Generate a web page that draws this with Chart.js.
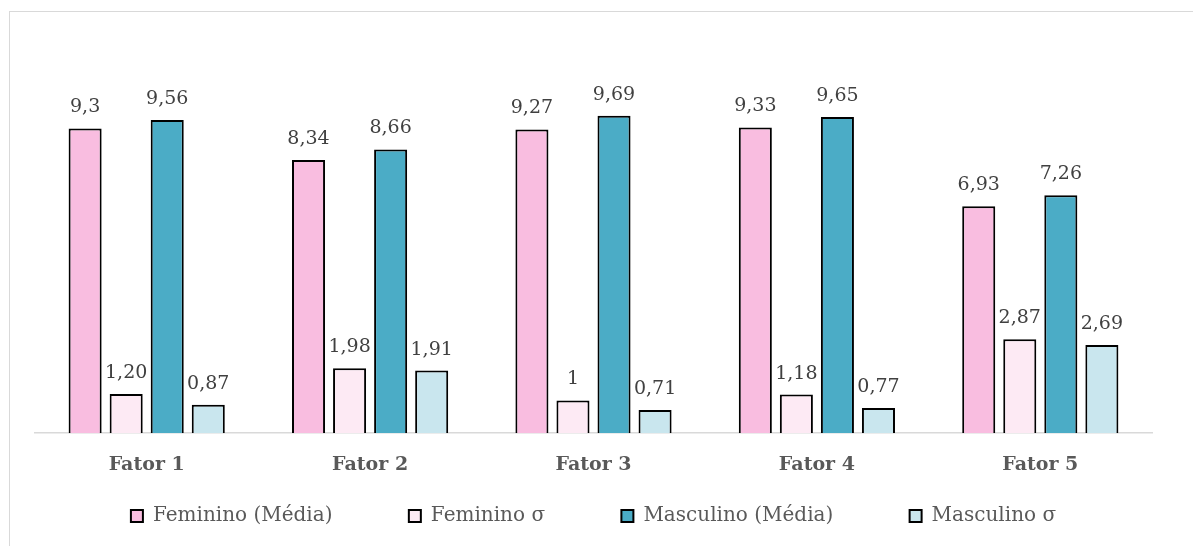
<!DOCTYPE html>
<html>
<head>
<meta charset="utf-8">
<script src="https://cdn.jsdelivr.net/npm/chart.js@4/dist/chart.umd.min.js"></script>
<style>
  html, body { margin: 0; padding: 0; background: #fff; }
  #wrap { width: 1193px; height: 546px; position: relative; }
</style>
</head>
<body>
<div id="wrap"><canvas id="fatores_chart" width="1193" height="546"></canvas></div>
<script>
// dados
const categorias = ['Fator 1', 'Fator 2', 'Fator 3', 'Fator 4', 'Fator 5'];
const femMedia = [9.3, 8.34, 9.27, 9.33, 6.93];
const femSigma = [1.20, 1.98, 1, 1.18, 2.87];
const mascMedia = [9.56, 8.66, 9.69, 9.65, 7.26];
const mascSigma = [0.87, 1.91, 0.71, 0.77, 2.69];
// rótulos como aparecem no gráfico
const femMediaTxt = ['9,3', '8,34', '9,27', '9,33', '6,93'];
const femSigmaTxt = ['1,20', '1,98', '1', '1,18', '2,87'];
const mascMediaTxt = ['9,56', '8,66', '9,69', '9,65', '7,26'];
const mascSigmaTxt = ['0,87', '1,91', '0,71', '0,77', '2,69'];

const FONTE = "'DejaVu Serif', 'Liberation Serif', serif";
const ESPACO = '\u2003\u2003\u2003 '; // espaço extra entre itens da legenda

// fundo + moldura
const moldura = {
  id: 'moldura',
  beforeDraw(chart) {
    const c = chart.ctx;
    c.save();
    c.fillStyle = '#fff';
    c.fillRect(0, 0, chart.width, chart.height);
    c.strokeStyle = '#d9d9d9';
    c.lineWidth = 1;
    c.strokeRect(9.5, 11.5, 1200, 560);
    c.restore();
  }
};

// valores acima das barras
const rotulos = {
  id: 'rotulos',
  afterDatasetsDraw(chart) {
    const c = chart.ctx;
    c.save();
    c.font = '19px ' + FONTE;
    c.fillStyle = '#404040';
    c.textAlign = 'center';
    c.textBaseline = 'alphabetic';
    chart.data.datasets.forEach((ds, i) => {
      chart.getDatasetMeta(i).data.forEach((bar, j) => {
        c.fillText(ds.textos[j], bar.x, bar.y - 16);
      });
    });
    c.restore();
  }
};

function serie(label, data, textos, cor) {
  return {
    label: label,
    data: data,
    textos: textos,
    backgroundColor: cor,
    borderColor: '#000',
    borderWidth: 2,
    categoryPercentage: 0.735,
    barPercentage: 0.805
  };
}

const ctx = document.getElementById('fatores_chart');
new Chart(ctx, {
  type: 'bar',
  data: {
    labels: categorias,
    datasets: [
      serie('Feminino (Média)', femMedia, femMediaTxt, '#f9bde0'),
      serie('Feminino σ', femSigma, femSigmaTxt, '#fdeaf4'),
      serie('Masculino (Média)', mascMedia, mascMediaTxt, '#4bacc6'),
      serie('Masculino σ', mascSigma, mascSigmaTxt, '#c9e6ee')
    ]
  },
  options: {
    responsive: false,
    animation: false,
    layout: { padding: { left: 35, right: 41, top: 40, bottom: 10 } },
    scales: {
      x: {
        grid: { display: false, drawTicks: false },
        border: { display: true, color: '#d9d9d9', width: 1.5 },
        ticks: {
          padding: 20,
          color: '#595959',
          font: { family: FONTE, size: 19, weight: 'bold' }
        }
      },
      y: {
        display: false,
        min: 0,
        max: 12
      }
    },
    plugins: {
      tooltip: { enabled: false },
      legend: {
        position: 'bottom',
        labels: {
          color: '#595959',
          font: { family: FONTE, size: 20 },
          boxWidth: 12,
          boxHeight: 12,
          padding: 10,
          generateLabels(chart) {
            const itens = Chart.defaults.plugins.legend.labels.generateLabels(chart);
            itens.forEach((it, i) => {
              it.lineWidth = 2;
              if (i < itens.length - 1) it.text = it.text + ESPACO;
            });
            return itens;
          }
        }
      }
    }
  },
  plugins: [moldura, rotulos]
});
</script>
</body>
</html>
